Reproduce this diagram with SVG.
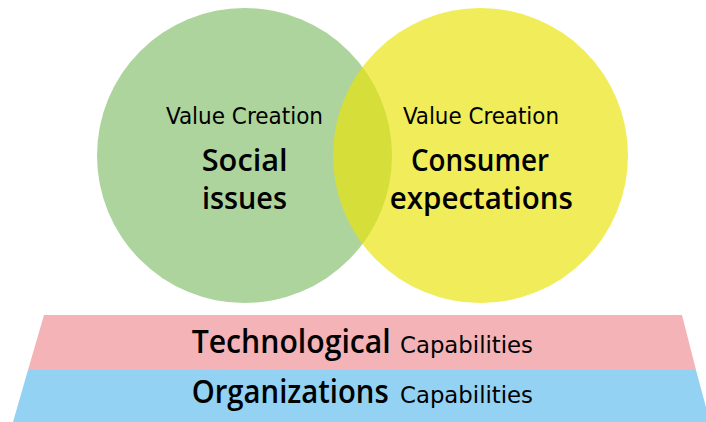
<svg xmlns="http://www.w3.org/2000/svg" width="706" height="422" viewBox="0 0 706 422">
<style>
text{font-family:"DejaVu Sans Condensed","DejaVu Sans","Liberation Sans",sans-serif;fill:#000;}
.sm{font-size:23px;}
.big{font-family:"Open Sans","DejaVu Sans Condensed",sans-serif;font-size:30px;font-weight:600;}
.cap{font-family:"Open Sans","DejaVu Sans Condensed",sans-serif;font-size:32px;font-weight:600;}
.mid{text-anchor:middle;}
</style>
<rect width="706" height="422" fill="#fff"/>
<g id="social">
<circle cx="244.5" cy="155.5" r="147.5" fill="#ADD49C"/>
</g>
<g id="consumer">
<circle cx="480.5" cy="155.5" r="147.5" fill="#E9E30C" fill-opacity="0.68"/>
</g>
<g id="social-text">
<text class="sm mid" x="244.5" y="124" textLength="157" lengthAdjust="spacingAndGlyphs">Value Creation</text>
<text class="big mid" x="244.7" y="171" textLength="86" lengthAdjust="spacingAndGlyphs">Social</text>
<text class="big mid" x="244.5" y="209" textLength="85" lengthAdjust="spacingAndGlyphs">issues</text>
</g>
<g id="consumer-text">
<text class="sm mid" x="481" y="124" textLength="156" lengthAdjust="spacingAndGlyphs">Value Creation</text>
<text class="big mid" x="480" y="171" textLength="138" lengthAdjust="spacingAndGlyphs">Consumer</text>
<text class="big mid" x="481.3" y="209" textLength="183" lengthAdjust="spacingAndGlyphs">expectations</text>
</g>
<g id="technological">
<polygon points="44,315 682,315 696,370 28,370" fill="#F4B3B6"/>
<text class="cap" x="191.7" y="353" textLength="199" lengthAdjust="spacingAndGlyphs">Technological</text>
<text class="sm" x="400" y="353" textLength="133" lengthAdjust="spacingAndGlyphs">Capabilities</text>
</g>
<g id="organizations">
<polygon points="28,370 696,370 710,422 13,422" fill="#93D2F2"/>
<text class="cap" x="191.7" y="403" textLength="197" lengthAdjust="spacingAndGlyphs">Organizations</text>
<text class="sm" x="400" y="403" textLength="133" lengthAdjust="spacingAndGlyphs">Capabilities</text>
</g>
</svg>
